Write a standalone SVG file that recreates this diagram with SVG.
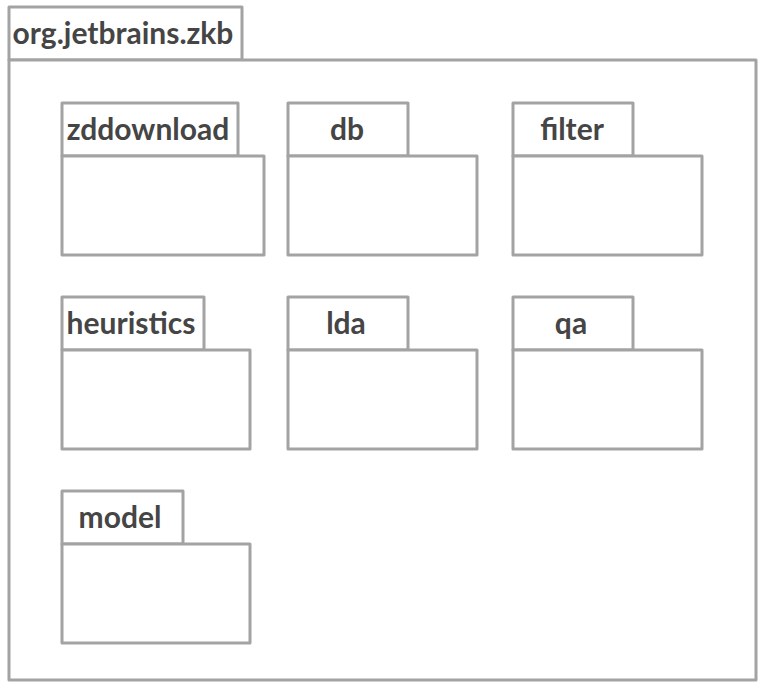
<svg xmlns="http://www.w3.org/2000/svg" width="766" height="691" viewBox="0 0 766 691">
<style>
.b{fill:#fff;stroke:#a3a3a3;stroke-width:3;stroke-linejoin:round}
.t{font-family:Lato,"Liberation Sans",sans-serif;font-weight:bold;font-size:30px;fill:#454545;text-anchor:middle}
</style>
<rect width="766" height="691" fill="#fff"/>
<g id="org.jetbrains.zkb">
<rect class="b" x="9" y="7" width="233" height="53"/>
<rect class="b" x="9" y="60" width="747" height="620"/>
<text class="t" x="123" y="44">org.jetbrains.zkb</text>
</g>
<g id="zddownload">
<rect class="b" x="62" y="103" width="176" height="53"/>
<rect class="b" x="62" y="156" width="202" height="99"/>
<text class="t" x="148" y="140">zddownload</text>
</g>
<g id="db">
<rect class="b" x="288" y="103" width="120" height="53"/>
<rect class="b" x="288" y="156" width="189" height="99"/>
<text class="t" x="347" y="140">db</text>
</g>
<g id="filter">
<rect class="b" x="513" y="103" width="120" height="53"/>
<rect class="b" x="513" y="156" width="189" height="99"/>
<text class="t" x="572" y="140">filter</text>
</g>
<g id="heuristics">
<rect class="b" x="62" y="297" width="142" height="53"/>
<rect class="b" x="62" y="350" width="188" height="99"/>
<text class="t" x="131" y="334">heuristics</text>
</g>
<g id="lda">
<rect class="b" x="288" y="297" width="120" height="53"/>
<rect class="b" x="288" y="350" width="189" height="99"/>
<text class="t" x="346" y="334">lda</text>
</g>
<g id="qa">
<rect class="b" x="513" y="297" width="120" height="53"/>
<rect class="b" x="513" y="350" width="189" height="99"/>
<text class="t" x="571" y="334">qa</text>
</g>
<g id="model">
<rect class="b" x="62" y="491" width="121" height="53"/>
<rect class="b" x="62" y="544" width="188" height="99"/>
<text class="t" x="120" y="528">model</text>
</g>
<g id="connectors"/>
</svg>
